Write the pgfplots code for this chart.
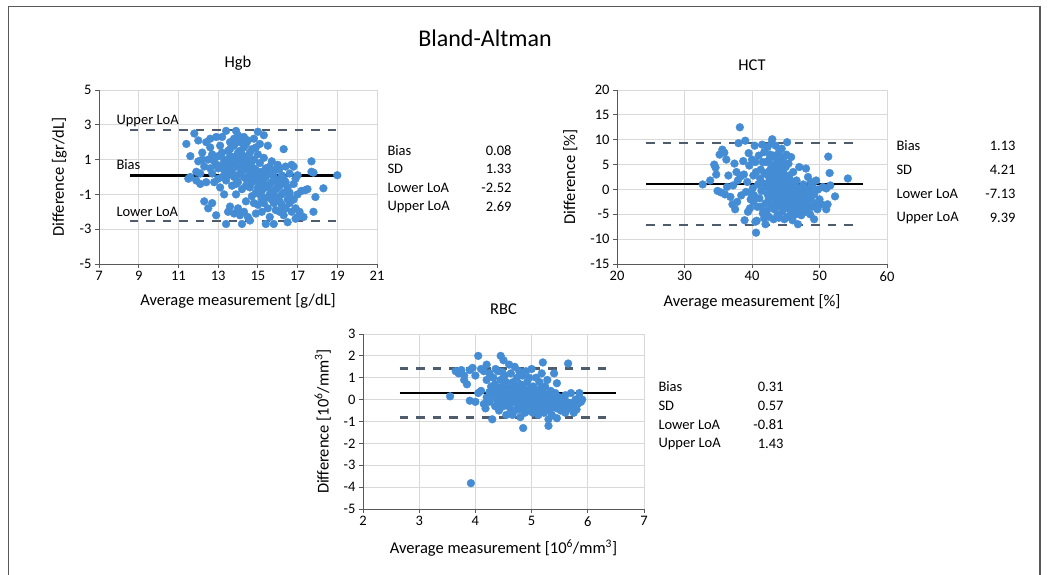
\documentclass[border=0pt]{standalone}
\usepackage{fontspec}
\setmainfont{Carlito}
\usepackage{pgfplots}
\pgfplotsset{compat=1.18}

\definecolor{ptblue}{RGB}{68,140,212}
\definecolor{loagray}{RGB}{78,92,110}
\definecolor{gridgray}{RGB}{217,217,217}

\pgfplotsset{
  ba/.style={
    scale only axis, anchor=south west,
    axis lines*=left, axis line style={-, draw=black!65, line width=0.9pt},
    grid=major, major grid style={draw=gridgray, line width=0.9pt},
    tick style={draw=black!65, line width=0.9pt},
    tick align=outside, major tick length=4pt,
    /pgf/number format/assume math mode=true,
    ticklabel style={font=\fontsize{14.5}{16}\selectfont},
    label style={font=\fontsize{16.5}{19}\selectfont},
    xlabel style={yshift=-6pt},
    ylabel style={yshift=6pt},
    title style={font=\fontsize{16.5}{19}\selectfont, yshift=10pt},
    clip=false,
  },
  pts/.style={only marks, mark=*, mark size=3.9pt, color=ptblue, mark options={draw=none, fill=ptblue}},
  bias/.style={black, line width=2.4pt},
  loa/.style={loagray, line width=2.4pt, dash pattern=on 8.5pt off 8pt},
}

\newcommand{\stat}{\fontsize{14.5}{16}\selectfont}

\begin{document}
\begin{tikzpicture}[x=1pt,y=1pt]
\useasboundingbox (0,0) rectangle (1050,575);
% frame
\draw[black!65, line width=1.8pt] (8.5,0) -- (8.5,568.5) -- (1040,568.5) -- (1040,0);
\node[font=\fontsize{24}{28}\selectfont] at (485,537) {Bland-Altman};

% ---------------- Hgb
\begin{axis}[ba, at={(99pt,311pt)}, width=278pt, height=174pt,
  xmin=7, xmax=21, xtick={7,9,...,21},
  ymin=-5, ymax=5, ytick={-5,-3,...,5},
  title={Hgb}, xlabel={Average measurement [g/dL]}, ylabel={Difference [gr/dL]}]
\addplot[pts] coordinates {
(11.4,1.9) (11.6,1.2) (11.6,0.0) (11.5,-0.1) (11.8,2.5) (12.0,2.1) (11.9,0.3) (12.1,-0.4) (12.0,0.9)
(12.2,1.4) (12.3,0.6) (12.3,-1.4) (12.5,-1.8) (12.4,2.0) (12.2,1.0) (12.4,-0.3) (12.1,0.2) (11.9,-0.2)
(12.6,2.2) (12.7,-1.5) (12.6,1.7) (12.8,0.9) (12.7,0.2) (12.9,-2.2) (12.9,2.3) (13.0,1.2) (13.0,0.5)
(12.8,-0.3) (13.1,-0.6) (13.1,1.8) (13.2,0.0) (13.2,2.3) (13.3,1.0) (13.3,0.4) (13.4,2.65) (13.4,-2.7)
(13.4,-0.2) (13.5,1.5) (13.5,0.8) (13.3,-1.0) (13.0,-0.1) (12.9,0.7) (13.2,1.4) (13.5,-2.0) (13.6,2.0) (12.7,1.3)
(13.6,0.3) (13.7,1.1) (13.7,-0.5) (13.8,1.8) (13.8,0.0) (13.9,2.65) (13.9,0.6) (13.9,-1.0) (14.0,1.4)
(14.0,-0.3) (14.0,0.9) (14.1,2.0) (14.1,0.2) (14.1,-2.2) (14.2,-2.7) (14.2,1.0) (14.2,-0.7) (14.3,0.5)
(14.3,1.7) (14.3,2.3) (14.4,-0.1) (14.4,0.8) (14.4,-1.4) (14.5,1.2) (14.5,0.0) (14.5,2.1) (13.6,-1.7)
(13.8,-2.1) (14.0,-1.8) (14.3,-2.0) (13.7,0.7) (14.1,1.5) (14.2,0.4) (14.4,-0.5) (13.8,2.2) (14.0,2.4)
(13.6,1.6) (14.5,-2.3) (14.4,1.9) (13.9,-0.4)
(14.6,0.6) (14.6,-0.6) (14.7,1.6) (14.7,0.2) (14.7,-1.1) (14.8,1.0) (14.8,-0.2) (14.8,2.2) (14.9,0.4)
(14.9,-0.9) (15.0,2.6) (15.0,0.0) (15.0,1.3) (15.0,-1.6) (15.1,-0.4) (15.1,0.8) (15.2,-2.0) (15.2,0.3)
(15.2,-0.8) (15.3,2.4) (15.3,1.1) (15.3,-0.1) (15.4,-2.7) (15.4,-1.2) (15.4,0.5) (15.5,-0.5) (15.5,1.8)
(15.5,-1.8) (14.6,-2.5) (14.9,-2.1) (15.1,1.9) (14.7,0.9) (15.2,-1.3) (15.4,0.0) (14.8,-1.5) (15.0,-0.6)
(15.6,0.2) (15.6,-1.0) (15.7,-0.3) (15.7,0.9) (15.8,-2.7) (15.8,-1.5) (15.8,0.0) (15.9,-0.7) (15.9,0.4)
(16.0,-1.2) (16.0,-0.2) (16.0,0.7) (16.1,-2.0) (16.1,-0.5) (16.2,-1.6) (16.2,0.1) (16.3,1.6) (16.3,-0.9)
(16.3,-2.2) (16.4,-0.3) (16.4,0.6) (16.5,-2.6) (16.5,-1.3) (16.5,-0.6) (15.6,-2.3) (15.9,-1.9) (16.1,0.5)
(15.7,-0.8) (16.2,-1.0) (16.4,-1.8)
(16.6,0.2) (16.6,-0.9) (16.7,0.7) (16.7,-2.0) (16.8,-0.4) (16.8,0.6) (16.9,-1.8) (16.9,-0.1) (17.0,-1.0)
(17.0,0.1) (17.0,-2.3) (17.1,-2.0) (17.2,-0.8) (17.3,-2.3) (17.4,-0.75) (17.5,-0.7) (16.9,-2.4) (16.6,-1.5)
(17.7,0.9) (17.7,0.3) (17.8,0.25) (17.9,-1.15) (17.8,-2.0) (18.3,-0.65) (19.0,0.1)
(13.5,0.1) (13.7,0.4) (13.9,1.2) (14.1,0.7) (14.3,0.0) (14.5,0.4) (14.6,1.0) (14.8,0.5) (15.0,0.3)
(15.2,-0.3) (15.4,-0.6) (15.6,-0.4) (15.8,-1.0) (16.0,-0.6) (16.2,-0.4) (14.2,1.3) (14.6,1.4) (13.4,0.6)
(13.6,1.2) (15.1,-1.0) (15.3,-1.5) (15.7,-1.3) (16.1,-1.4) (16.6,-1.1) (14.9,1.7) (13.2,0.7) (12.6,0.5)
(12.5,1.0) (15.5,0.3) (15.9,-0.2) (16.3,-0.1) (16.8,-1.3) (14.0,0.1) (14.7,-0.3) (15.6,0.6)
};
\addplot[bias] coordinates {(8.55,0.08) (19.2,0.08)};
\addplot[loa] coordinates {(8.55,2.69) (19.1,2.69)};
\addplot[loa] coordinates {(8.55,-2.52) (19.1,-2.52)};
\end{axis}

% ---------------- HCT
\begin{axis}[ba, at={(617pt,311pt)}, width=270pt, height=174pt,
  xmin=20, xmax=60, xtick={20,30,...,60},
  ymin=-15, ymax=20, ytick={-15,-10,...,20},
  title={HCT}, xlabel={Average measurement [\%]}, ylabel={Difference [\%]}]
\addplot[pts] coordinates {
(32.7,1.0) (33.8,1.8) (34.4,5.0) (34.6,4.4) (34.7,3.0) (34.9,-0.3) (35.4,-0.6) (35.2,7.0) (35.6,8.0)
(35.9,7.4) (36.2,6.0) (36.5,2.8) (36.3,0.5) (36.0,-1.0) (36.8,-1.5) (37.1,-3.0) (37.4,5.2) (37.7,3.5)
(37.5,-4.0) (37.8,-2.5) (37.2,0.8) (37.9,1.8) (38.2,12.5) (38.0,9.3) (38.4,-1.2) (38.3,2.6)
(38.7,5.7) (39.0,9.8) (38.9,-6.2) (38.8,3.0) (39.1,-0.5) (39.3,1.5) (39.5,7.3) (39.6,4.8) (39.8,-2.0)
(39.7,-3.8) (40.0,6.0) (40.1,0.2) (40.2,2.8) (40.3,-1.2) (40.5,-6.5) (40.6,-8.7) (40.7,-6.3) (40.4,8.8)
(40.5,5.5) (40.8,-3.5) (40.9,1.0) (40.6,3.5) (39.4,-4.5) (39.9,-0.8) (40.2,-2.5)
(41.0,6.8) (41.1,-1.8) (41.2,2.2) (41.3,4.0) (41.5,9.0) (41.4,-0.3) (41.6,-4.8) (41.7,1.2) (41.8,7.5)
(41.9,3.2) (42.0,-7.0) (42.0,-2.8) (42.1,5.5) (42.2,0.5) (42.3,8.5) (42.3,-1.0) (42.4,2.8) (42.5,-5.5)
(42.6,6.2) (42.6,1.8) (42.7,-0.2) (42.8,4.2) (42.8,-3.2) (42.9,9.3) (42.9,2.5) (41.3,-3.5) (41.8,-5.8)
(42.2,-4.3) (41.6,5.5) (42.5,3.6)
(43.0,10.1) (43.0,0.8) (43.1,3.5) (43.1,-1.5) (43.2,6.8) (43.2,1.8) (43.3,-4.0) (43.3,2.8) (43.4,0.2)
(43.4,5.0) (43.5,8.8) (43.5,-2.5) (43.6,3.9) (43.6,1.2) (43.7,-0.8) (43.7,6.0) (43.8,2.2) (43.8,-5.0)
(43.9,0.5) (43.9,4.5) (44.0,-5.7) (44.0,1.6) (44.0,7.5) (44.1,-1.8) (44.1,3.0) (44.2,0.0) (44.2,5.5)
(44.3,-3.2) (44.3,2.4) (44.4,-0.6) (44.4,8.2) (44.5,1.0) (44.5,-4.5) (44.6,3.6) (44.6,-2.2) (44.7,0.4)
(44.7,6.4) (44.8,-1.2) (44.8,-6.0) (44.9,2.0) (44.9,-3.8) (43.2,-6.0) (43.6,-3.5) (44.2,-2.8) (43.4,1.5)
(43.8,0.9) (44.6,-0.2) (43.0,4.8) (44.0,-0.4)
(45.0,-0.5) (45.0,4.5) (45.1,-2.8) (45.2,9.5) (45.2,1.2) (45.3,-1.5) (45.3,-5.5) (45.4,0.3) (45.5,-3.0)
(45.5,2.8) (45.6,-0.9) (45.7,-4.2) (45.8,6.5) (45.8,0.8) (45.9,-2.0) (46.0,-0.2) (46.0,-6.2) (46.1,3.5)
(46.2,-1.5) (46.2,-3.6) (46.3,0.5) (46.4,-2.6) (46.5,-0.8) (46.5,-5.0) (46.6,1.8) (46.7,-1.9) (46.8,-7.0)
(46.8,-0.2) (46.9,-3.2) (47.0,4.5) (45.4,5.2) (45.9,-4.8) (46.3,-1.0) (45.6,2.0) (46.6,-4.2) (45.1,7.0)
(47.1,-1.0) (47.2,-2.5) (47.3,0.3) (47.4,-3.8) (47.5,-1.6) (47.6,1.0) (47.7,-0.5) (47.8,-2.2) (47.9,-4.5)
(48.0,4.2) (48.0,-1.2) (48.1,0.2) (48.2,-3.0) (48.3,2.5) (48.4,-0.8) (48.5,-2.0) (48.6,-5.0) (48.7,1.5)
(48.8,-1.5) (48.9,-3.5) (49.0,0.5) (49.2,-6.0) (49.2,-1.0) (49.4,-2.8) (49.5,1.8) (49.7,-4.0) (49.8,0.0)
(50.0,-2.0) (47.3,-5.2) (48.1,-3.8)
(50.3,-3.0) (50.5,0.5) (51.0,0.2) (51.0,-4.0) (51.2,-3.0) (51.3,6.6) (51.5,3.3) (51.6,0.8) (52.3,-1.4) (54.2,2.2)
(43.3,1.0) (43.7,2.0) (44.1,0.9) (44.5,2.6) (44.9,-0.5) (45.3,1.0) (45.7,-1.3) (46.1,-2.3) (46.5,-1.2)
(46.9,-1.4) (47.3,-2.0) (47.7,-2.8) (48.1,-1.8) (48.5,-0.4) (44.3,4.0) (43.9,6.5) (42.7,7.0) (43.5,3.2)
(44.7,-2.8) (45.5,-0.2) (46.3,-3.0) (47.1,-3.5) (42.9,0.0) (43.1,-0.5) (44.4,-1.4) (45.8,-3.2) (46.7,0.3)
(47.5,0.1) (42.5,-1.8) (44.8,5.0)
};
\addplot[bias] coordinates {(24.3,1.13) (56.4,1.13)};
\addplot[loa] coordinates {(24.3,9.39) (55.8,9.39)};
\addplot[loa] coordinates {(24.3,-7.13) (55.8,-7.13)};
\end{axis}

% ---------------- RBC
\begin{axis}[ba, at={(363pt,66pt)}, width=281pt, height=175pt,
  xmin=2, xmax=7, xtick={2,...,7},
  ymin=-5, ymax=3, ytick={-5,...,3},
  title={RBC}, xlabel={Average measurement [10\textsuperscript{6}/mm\textsuperscript{3}]},
  ylabel={Difference [10\textsuperscript{6}/mm\textsuperscript{3}]}]
\addplot[pts] coordinates {
(3.55,0.15) (3.65,1.3) (3.7,1.2) (3.75,1.35) (3.8,0.9) (3.85,0.7) (3.8,1.1) (3.9,1.35) (3.95,1.45)
(3.9,-0.05) (3.92,-3.82) (4.0,-0.1) (4.0,1.1) (4.05,2.0) (4.05,0.3) (4.1,1.4) (4.1,0.4) (4.15,1.3)
(4.15,-0.2) (4.2,1.6) (4.2,0.9) (4.2,0.1) (4.18,-0.4) (4.25,1.2) (4.25,-0.1)
(4.28,0.6) (4.3,-0.9) (4.3,0.2) (4.32,1.0) (4.35,-0.3) (4.35,0.7) (4.38,0.0) (4.4,1.3) (4.4,0.4)
(4.42,-0.5) (4.45,2.0) (4.45,0.9) (4.45,-0.1) (4.48,0.3) (4.5,1.8) (4.5,0.6) (4.5,-0.3) (4.52,1.1)
(4.55,-0.7) (4.55,0.2) (4.55,0.8) (4.58,-0.2) (4.6,1.6) (4.6,0.5) (4.6,0.0) (4.3,0.45) (4.4,-0.2)
(4.5,0.1) (4.36,1.4) (4.48,1.25)
(4.62,-0.4) (4.63,1.2) (4.65,0.3) (4.67,0.8) (4.68,-0.1) (4.7,1.5) (4.7,0.1) (4.7,-0.5) (4.72,0.6)
(4.74,1.0) (4.75,-0.2) (4.76,0.4) (4.78,1.3) (4.8,-0.8) (4.8,0.2) (4.8,0.7) (4.82,-0.4) (4.84,1.1)
(4.85,-1.3) (4.85,0.0) (4.86,0.5) (4.88,-0.6) (4.9,1.3) (4.9,0.3) (4.9,-0.2) (4.92,0.8) (4.94,-0.5)
(4.95,0.1) (4.96,1.0) (4.98,-0.3) (4.98,0.5) (4.66,-0.7) (4.73,0.35) (4.83,0.25) (4.93,-0.05) (4.77,-0.45)
(5.0,1.4) (5.0,0.0) (5.02,-0.6) (5.03,0.6) (5.05,0.2) (5.06,-0.3) (5.08,1.0) (5.1,-0.1) (5.1,0.4)
(5.12,-0.7) (5.14,0.8) (5.15,0.0) (5.16,-0.4) (5.18,1.2) (5.2,1.7) (5.2,0.3) (5.2,-0.2) (5.22,-0.6)
(5.24,0.6) (5.25,0.0) (5.26,-0.35) (5.28,0.9) (5.3,-1.2) (5.3,-0.9) (5.3,0.2) (5.32,-0.5) (5.34,0.4)
(5.35,-0.1) (5.36,-0.7) (5.38,0.1) (5.4,1.2) (5.4,-0.3) (5.05,-0.45) (5.13,0.25) (5.23,-0.15) (5.33,0.05) (5.17,0.55)
(5.42,0.3) (5.45,0.75) (5.45,-0.85) (5.47,-0.2) (5.5,0.1) (5.52,-0.5) (5.55,0.0) (5.57,-0.3) (5.6,0.2)
(5.6,-0.6) (5.62,-0.1) (5.65,1.65) (5.66,-0.4) (5.7,0.3) (5.7,-0.15) (5.72,-0.3) (5.75,-0.6) (5.78,0.0)
(5.8,-0.45) (5.82,-0.2) (5.85,0.3) (5.85,0.1) (5.9,0.0) (5.88,-0.1) (5.5,-0.35)
(4.5,0.35) (4.6,0.25) (4.7,0.45) (4.8,0.0) (4.9,0.1) (5.0,0.3) (5.1,0.15) (5.2,0.05) (5.3,-0.2)
(5.4,0.0) (5.5,-0.15) (5.6,-0.25) (4.65,0.55) (4.75,0.15) (4.85,-0.2) (4.95,-0.15) (5.05,0.45) (5.15,-0.2)
(5.25,0.25) (5.35,-0.35) (4.4,0.15) (4.45,0.55) (4.55,-0.05) (5.45,-0.4) (5.55,-0.45) (5.65,-0.15)
(4.25,0.35) (4.35,0.25)
};
\addplot[bias] coordinates {(2.65,0.31) (6.5,0.31)};
\addplot[loa] coordinates {(2.65,1.43) (6.4,1.43)};
\addplot[loa] coordinates {(2.65,-0.81) (6.4,-0.81)};
\end{axis}

% labels inside Hgb
\begin{scope}[font=\fontsize{14.5}{16}\selectfont]
\node[anchor=west] at (113,454) {Upper LoA};
\node[anchor=west] at (113,410) {Bias};
\node[anchor=west] at (113,363) {Lower LoA};
\end{scope}

% statistics
\begin{scope}[font=\stat]
\node[anchor=west] at (384,424) {Bias};      \node[anchor=east] at (515,424) {0.08};
\node[anchor=west] at (384,406) {SD};        \node[anchor=east] at (515,406) {1.33};
\node[anchor=west] at (384,387) {Lower LoA}; \node[anchor=east] at (515,387) {-2.52};
\node[anchor=west] at (384,368) {Upper LoA}; \node[anchor=east] at (515,368) {2.69};

\node[anchor=west] at (893,429) {Bias};      \node[anchor=east] at (1019,429) {1.13};
\node[anchor=west] at (893,405) {SD};        \node[anchor=east] at (1019,405) {4.21};
\node[anchor=west] at (893,381) {Lower LoA}; \node[anchor=east] at (1019,381) {-7.13};
\node[anchor=west] at (893,357) {Upper LoA}; \node[anchor=east] at (1019,357) {9.39};

\node[anchor=west] at (655,188) {Bias};      \node[anchor=east] at (787,188) {0.31};
\node[anchor=west] at (655,169) {SD};        \node[anchor=east] at (787,169) {0.57};
\node[anchor=west] at (655,150) {Lower LoA}; \node[anchor=east] at (787,150) {-0.81};
\node[anchor=west] at (655,131) {Upper LoA}; \node[anchor=east] at (787,131) {1.43};
\end{scope}
\end{tikzpicture}
\end{document}
